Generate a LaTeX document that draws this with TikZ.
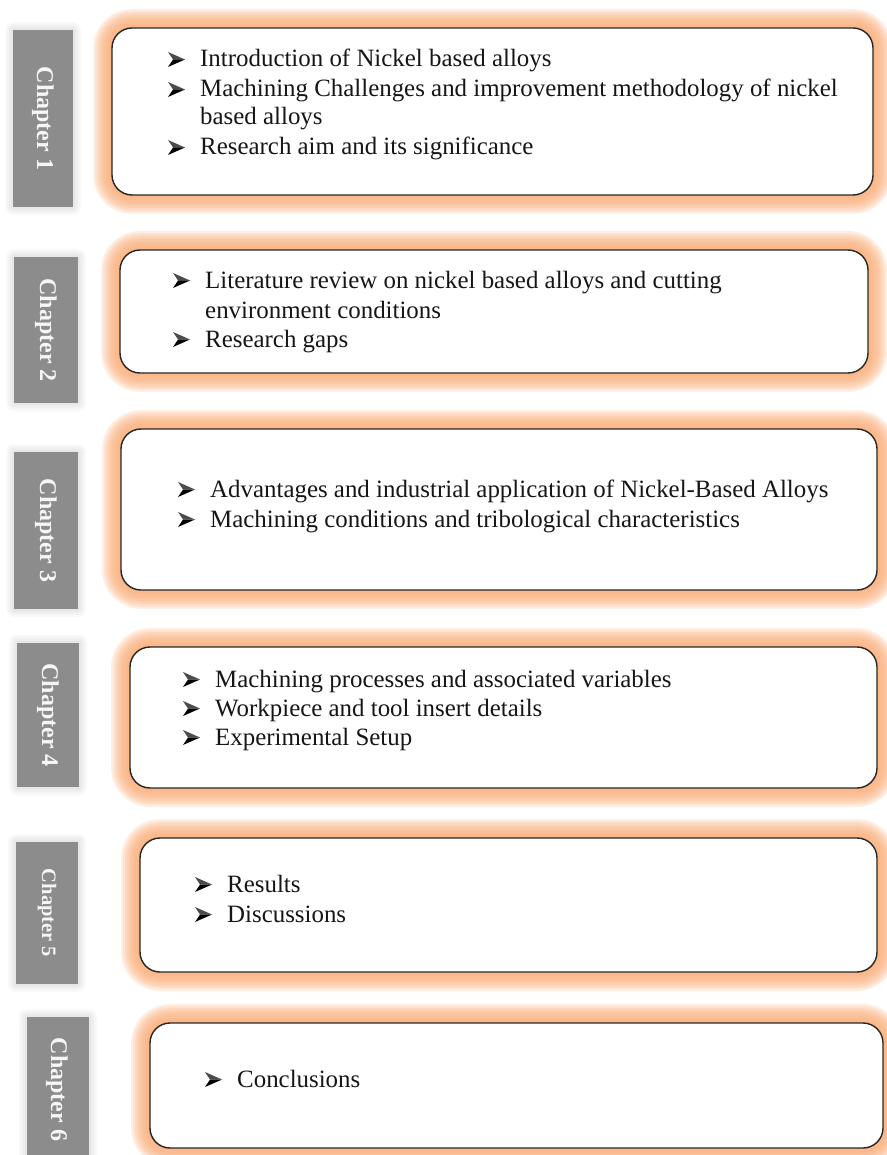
\documentclass[tikz,border=0pt]{standalone}
\usepackage{fontspec}
\setmainfont{Liberation Serif}
\usetikzlibrary{fit,backgrounds}

\definecolor{glowc}{RGB}{250,172,118}
\definecolor{tabgrey}{RGB}{140,140,140}
\definecolor{tabtext}{RGB}{246,246,246}
\definecolor{bodytext}{RGB}{22,22,22}

\tikzset{
  chapbox/.style={draw=black!85, line width=1.4pt, fill=white, rounded corners=20pt, inner sep=0pt},
  tabbox/.style={fill=tabgrey, draw=none, inner sep=0pt},
  tablabel/.style={text=tabtext, font=\bfseries\fontsize{24pt}{26pt}\selectfont, inner sep=0pt},
  itemtext/.style={text=bodytext, font=\fontsize{24.9pt}{29.5pt}\selectfont, inner sep=0pt, anchor=base west},
  arrowlight/.style={fill=black!70},
  arrowdark/.style={fill=black},
}

% rounded box with a soft orange halo
\newcommand\glowbox[5]{%
  \begin{scope}[on background layer]
    \foreach \w in {38,34,...,2}{
      \draw[glowc, line width=\w pt, opacity=0.19, rounded corners=20pt, line join=round] (#2,#3) rectangle (#4,#5);}
  \end{scope}
  \node[chapbox, fit={(#2,#3) (#4,#5)}] (#1) {};
}

% grey chapter tab with a light shadow and vertical title
\newcommand\chaptab[7]{%
  \begin{scope}[on background layer]
    \foreach \s in {8,6,4,2}{
      \fill[black, opacity=0.025, rounded corners=\s pt] (#2-\s,#3-\s) rectangle (#4+\s,#5+\s);}
  \end{scope}
  \node[tabbox, fit={(#2,#3) (#4,#5)}] (#1) {};
  \node[tablabel, rotate=-90, #7] (#1lab) at (#1.center) {#6};
}

% arrowhead bullet followed by its text, on baseline y
\newcommand\itemrow[4]{%
  \fill[arrowlight] (#2,#3-15) -- (#2+17,#3-7.5) -- (#2+5,#3-7.5) -- cycle;
  \fill[arrowdark] (#2,#3) -- (#2+17,#3-7.5) -- (#2+5,#3-7.5) -- cycle;
  \node[itemtext] (#1) at (#2+32,#3) {#4};
}
\newcommand\controw[4]{\node[itemtext] (#1) at (#2+32,#3) {#4};}

\begin{document}
\begin{tikzpicture}[x=1pt, y=-1pt]
  \useasboundingbox (0,0) rectangle (886,1155);
  \clip (0,0) rectangle (886,1155);

  % chapter tabs
  \chaptab{t1}{13}{30}{73}{207}{Chapter 1}{}
  \chaptab{t2}{14}{257}{78}{403}{Chapter 2}{}
  \chaptab{t3}{14}{452}{78}{609}{Chapter 3}{}
  \chaptab{t4}{17}{643}{79}{787}{Chapter 4}{}
  \chaptab{t5}{16}{842}{78}{984}{Chapter 5}{font=\bfseries\fontsize{20.5pt}{23pt}\selectfont}
  \chaptab{t6}{27}{1017}{89}{1162}{Chapter 6}{yshift=-1pt}

  % content boxes
  \glowbox{b1}{112}{28}{873}{195}
  \glowbox{b2}{120}{250}{868}{373}
  \glowbox{b3}{121}{429}{877}{590}
  \glowbox{b4}{130}{647}{877}{788}
  \glowbox{b5}{140}{838}{877}{972}
  \glowbox{b6}{150}{1023}{883}{1148}

  % chapter 1
  \itemrow{c1a}{168}{67}{Introduction of Nickel based alloys}
  \itemrow{c1b}{168}{97}{Machining Challenges and improvement methodology of nickel}
  \controw{c1c}{168}{125}{based alloys}
  \itemrow{c1d}{168}{155}{Research aim and its significance}

  % chapter 2
  \itemrow{c2a}{173}{288}{Literature review on nickel based alloys and cutting}
  \controw{c2b}{173}{318}{environment conditions}
  \itemrow{c2c}{173}{347}{Research gaps}

  % chapter 3
  \itemrow{c3a}{178}{497}{Advantages and industrial application of Nickel-Based Alloys}
  \itemrow{c3b}{178}{527}{Machining conditions and tribological characteristics}

  % chapter 4
  \itemrow{c4a}{183}{687}{Machining processes and associated variables}
  \itemrow{c4b}{183}{716}{Workpiece and tool insert details}
  \itemrow{c4c}{183}{745}{Experimental Setup}

  % chapter 5
  \itemrow{c5a}{195}{892}{Results}
  \itemrow{c5b}{195}{922}{Discussions}

  % chapter 6
  \itemrow{c6a}{205}{1087}{Conclusions}
\end{tikzpicture}
\end{document}
